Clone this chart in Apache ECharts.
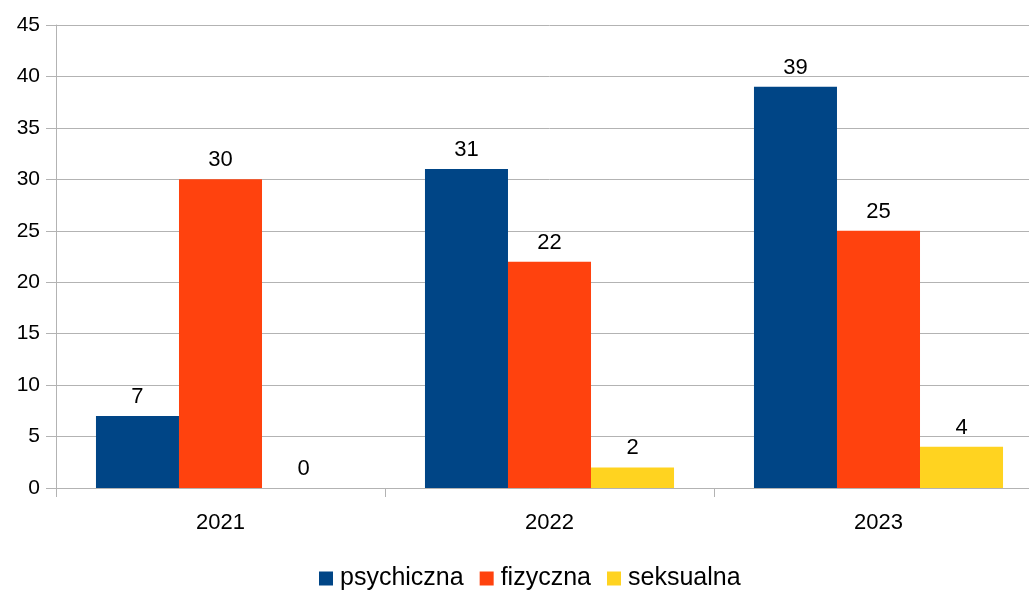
<!DOCTYPE html>
<html>
<head>
<meta charset="utf-8">
<script src="https://cdn.jsdelivr.net/npm/echarts@6/dist/echarts.min.js"></script>
<style>
	html, body { margin: 0; padding: 0; background: #fff; overflow: hidden; }
	/* plot continues past the right edge in the original, so the canvas is a bit wider */
	#chart { width: 1043px; height: 592px; }
</style>
</head>
<body>
<div id="chart"></div>
<script>
	// dane z wykresu
	const years = ['2021', '2022', '2023'];
	const psychiczna = [7, 31, 39];
	const fizyczna = [30, 22, 25];
	const seksualna = [0, 2, 4];

	const font = 'Liberation Sans, Arial, sans-serif';
	const chart = echarts.init(document.getElementById('chart'));

	const label = {
		show: true,
		position: 'top',
		distance: 8,
		color: '#000',
		fontSize: 22,
		fontFamily: font
	};

	chart.setOption({
		animation: false,
		color: ['#004586', '#ff420e', '#ffd320'],
		grid: {
			left: 56,
			top: 25,
			bottom: 104,
			right: 0
		},
		legend: {
			bottom: -4,
			left: 314,
			itemWidth: 14,
			itemHeight: 14,
			itemGap: 16,
			icon: 'rect',
			textStyle: { fontSize: 25, fontFamily: font, color: '#000', padding: [0, 0, 0, 2] },
			data: ['psychiczna', 'fizyczna', 'seksualna']
		},
		xAxis: {
			type: 'category',
			data: years,
			axisLine: { lineStyle: { color: '#b3b3b3', width: 1 } },
			axisTick: { show: true, length: 9, lineStyle: { color: '#b3b3b3' } },
			axisLabel: { color: '#000', fontSize: 22, fontFamily: font, margin: 24 }
		},
		yAxis: {
			type: 'value',
			min: 0,
			max: 45,
			interval: 5,
			axisLine: { show: true, lineStyle: { color: '#b3b3b3' } },
			axisTick: { show: true, length: 10, lineStyle: { color: '#b3b3b3' } },
			splitLine: { lineStyle: { color: '#b3b3b3' } },
			axisLabel: { color: '#000', fontSize: 21, fontFamily: font, margin: 16 }
		},
		series: [
			{ name: 'psychiczna', type: 'bar', data: psychiczna, barGap: '0%', barCategoryGap: '24.3%', label: label },
			{ name: 'fizyczna', type: 'bar', data: fizyczna, label: label },
			{ name: 'seksualna', type: 'bar', data: seksualna, label: label }
		]
	});
</script>
</body>
</html>
